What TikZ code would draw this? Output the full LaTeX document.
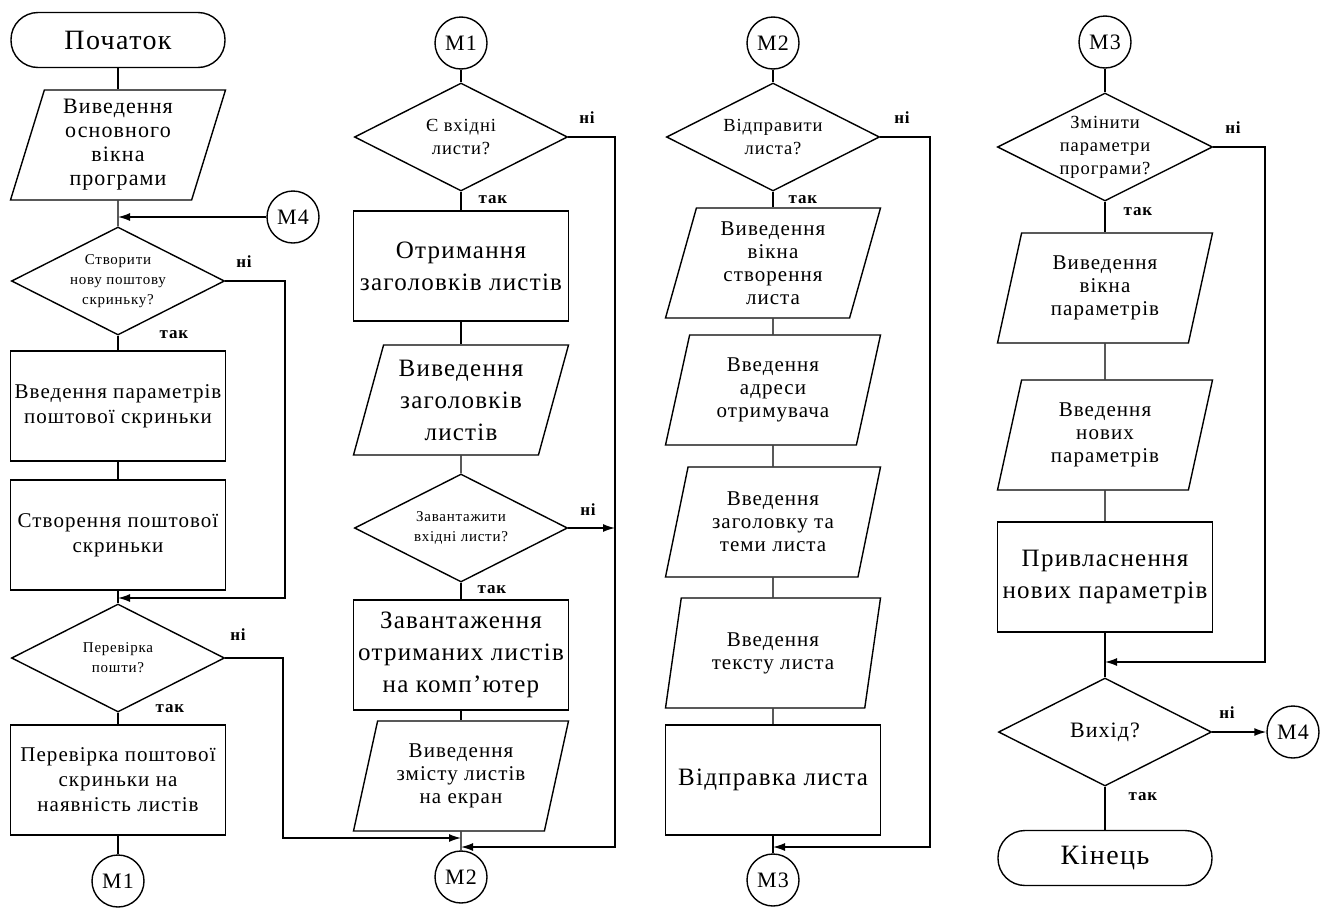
\documentclass[tikz,border=0pt]{standalone}
\usepackage{fontspec}
\setmainfont{Liberation Serif}[LetterSpace=5]
\usetikzlibrary{shapes.geometric,arrows.meta}

\begin{document}
\begin{tikzpicture}[x=1pt,y=-1pt,line width=1.4pt,>={Latex[length=12pt,width=8pt]},
    term/.style={draw,rectangle,rounded corners=27pt,minimum width=214,minimum height=55,font=\fontsize{28}{32}\selectfont},
    io/.style={draw,trapezium,trapezium left angle=70,trapezium right angle=110,trapezium stretches body,
        minimum width=215,minimum height=110,align=center,inner sep=1pt,font=\fontsize{21}{23}\selectfont},
    proc/.style={draw,rectangle,minimum width=215,minimum height=110,align=center,font=\fontsize{21}{25}\selectfont},
    cond/.style={draw,diamond,aspect=2,inner sep=0pt,minimum width=213,minimum height=108,align=center,font=\fontsize{18.5}{23}\selectfont},
    conn/.style={draw,circle,minimum size=52,inner sep=0pt,font=\fontsize{22}{24}\selectfont},
    lbl/.style={font=\fontsize{17}{19}\selectfont\bfseries},
    bigtext/.style={font=\fontsize{25}{32}\selectfont},
    smalltext/.style={font=\fontsize{15}{20}\selectfont}]
\useasboundingbox (0,0) rectangle (1328,908);

% column 1
\node[term] (start) at (118,40) {Початок};
\node[io,font=\fontsize{22}{24}\selectfont] (io1) at (118,145) {Виведення\\основного\\вікна\\програми};
\node[cond,smalltext] (d1) at (118,281) {Створити\\нову поштову\\скриньку?};
\node[proc] (b1) at (118,406) {Введення параметрів\\поштової скриньки};
\node[proc] (b2) at (118,535) {Створення поштової\\скриньки};
\node[cond,smalltext] (d2) at (118,658) {Перевірка\\пошти?};
\node[proc] (b3) at (118,780) {Перевірка поштової\\скриньки на\\наявність листів};
\node[conn] (m1a) at (118,881) {M1};
\node[conn] (m4a) at (293,217) {M4};

\coordinate (j0) at (118,217);
\coordinate (c1) at (285,598);
\coordinate (j1) at (118,598);
\coordinate (c2) at (283,838);

\node[lbl] (n1) at (244,262) {ні};
\node[lbl] (y1) at (174,335) {так};
\node[lbl] (n2) at (238,635) {ні};
\node[lbl] (y2) at (170,709) {так};

% column 2
\node[conn] (m1b) at (461,43) {M1};
\node[cond] (d3) at (461,137) {Є вхідні\\листи?};
\node[proc,bigtext] (b4) at (461,266) {Отримання\\заголовків листів};
\node[io,bigtext] (io2) at (461,400) {Виведення\\заголовків\\листів};
\node[cond,smalltext] (d4) at (461,528) {Завантажити\\вхідні листи?};
\node[proc,bigtext] (b5) at (461,655) {Завантаження\\отриманих листів\\на комп'ютер};
\node[io] (io3) at (461,776) {Виведення\\змісту листів\\на екран};
\node[conn] (m2a) at (461,877) {M2};

\coordinate (j2) at (461,838);
\coordinate (c3) at (615,847);
\coordinate (j3) at (461,847);
\coordinate (k1) at (615,528);

\node[lbl] (n3) at (587,118) {ні};
\node[lbl] (y3) at (493,200) {так};
\node[lbl] (n4) at (588,510) {ні};
\node[lbl] (y4) at (492,590) {так};

% column 3
\node[conn] (m2b) at (773,43) {M2};
\node[cond] (d5) at (773,137) {Відправити\\листа?};
\node[io] (io4) at (773,263) {Виведення\\вікна\\створення\\листа};
\node[io] (io5) at (773,390) {Введення\\адреси\\отримувача};
\node[io] (io6) at (773,522) {Введення\\заголовку та\\теми листа};
\node[io] (io7) at (773,653) {Введення\\тексту листа};
\node[proc,bigtext] (b6) at (773,780) {Відправка листа};
\node[conn] (m3a) at (773,880) {M3};

\coordinate (c4) at (930,847);
\coordinate (j4) at (773,847);

\node[lbl] (n5) at (902,118) {ні};
\node[lbl] (y5) at (803,200) {так};

% column 4
\node[conn] (m3b) at (1105,42) {M3};
\node[cond] (d6) at (1105,147) {Змінити\\параметри\\програми?};
\node[io] (io8) at (1105,288) {Виведення\\вікна\\параметрів};
\node[io] (io9) at (1105,435) {Введення\\нових\\параметрів};
\node[proc,bigtext] (b7) at (1105,577) {Привласнення\\нових параметрів};
\node[cond,font=\fontsize{22}{24}\selectfont] (d7) at (1105,732) {Вихід?};
\node[term] (stop) at (1105,858) {Кінець};
\node[conn] (m4b) at (1293,732) {M4};

\coordinate (c5) at (1265,662);
\coordinate (j5) at (1105,662);

\node[lbl] (n6) at (1233,128) {ні};
\node[lbl] (y6) at (1138,212) {так};
\node[lbl] (n7) at (1227,713) {ні};
\node[lbl] (y7) at (1143,797) {так};

\draw (start) -- (io1);
\draw (io1) -- (d1);
\draw[->] (m4a) -- (j0);
\draw (d1) -- (b1);
\draw (b1) -- (b2);
\draw (b2) -- (d2);
\draw (d2) -- (b3);
\draw (b3) -- (m1a);
\draw[->] (d1.east) -| (c1) -- (j1);
\draw[->] (d2.east) -| (c2) -- (j2);

\draw (m1b) -- (d3);
\draw (d3) -- (b4);
\draw (b4) -- (io2);
\draw (io2) -- (d4);
\draw (d4) -- (b5);
\draw (b5) -- (io3);
\draw (io3) -- (m2a);
\draw[->] (d3.east) -| (c3) -- (j3);
\draw[->] (d4.east) -- (k1);

\draw (m2b) -- (d5);
\draw (d5) -- (io4);
\draw (io4) -- (io5);
\draw (io5) -- (io6);
\draw (io6) -- (io7);
\draw (io7) -- (b6);
\draw (b6) -- (m3a);
\draw[->] (d5.east) -| (c4) -- (j4);

\draw (m3b) -- (d6);
\draw (d6) -- (io8);
\draw (io8) -- (io9);
\draw (io9) -- (b7);
\draw (b7) -- (d7);
\draw (d7) -- (stop);
\draw[->] (d6.east) -| (c5) -- (j5);
\draw[->] (d7) -- (m4b);
\end{tikzpicture}
\end{document}
